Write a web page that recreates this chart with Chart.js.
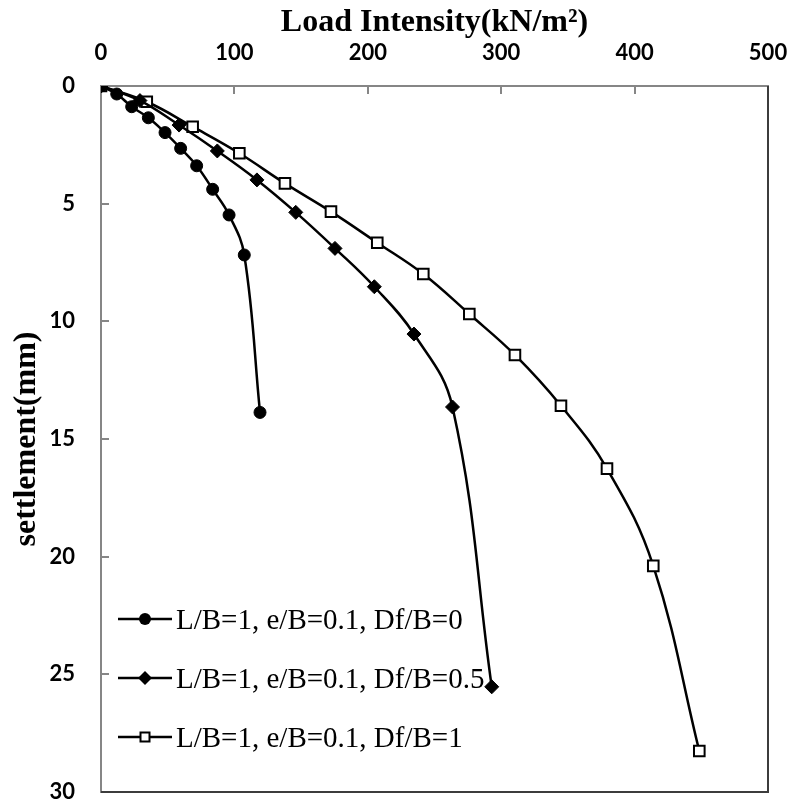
<!DOCTYPE html>
<html>
<head>
<meta charset="utf-8">
<script src="https://cdn.jsdelivr.net/npm/chart.js@4.4.0/dist/chart.umd.min.js"></script>
<style>
html, body { margin: 0; padding: 0; background: #fff; }
</style>
</head>
<body>
<canvas id="settleChart" width="792" height="805"></canvas>
<script>
// values
var seriesNames = ['L/B=1, e/B=0.1, Df/B=0', 'L/B=1, e/B=0.1, Df/B=0.5', 'L/B=1, e/B=0.1, Df/B=1'];

var loadDf0 = [0, 11.8, 23.0, 35.5, 48.0, 59.7, 71.7, 83.7, 96.0, 107.4, 119.2];
var settleDf0 = [0, 0.34, 0.88, 1.35, 1.98, 2.65, 3.39, 4.39, 5.48, 7.18, 13.87];

var loadDf05 = [0, 29.2, 58.5, 87.2, 116.9, 146.0, 175.4, 204.9, 234.6, 263.5, 292.9];
var settleDf05 = [0, 0.62, 1.66, 2.76, 3.99, 5.37, 6.90, 8.53, 10.54, 13.64, 25.53];

var loadDf1 = [0, 34.3, 68.7, 103.7, 137.9, 172.4, 207.1, 241.6, 276.1, 310.3, 344.8, 379.3, 414.0, 448.5];
var settleDf1 = [0, 0.67, 1.73, 2.86, 4.14, 5.34, 6.66, 7.99, 9.69, 11.43, 13.59, 16.26, 20.39, 28.26];

var xTicks = [0, 100, 200, 300, 400, 500];
var yTicks = [0, 5, 10, 15, 20, 25, 30];

function toPoints(xs, ys) {
    var pts = [];
    for (var i = 0; i < xs.length; i++) {
        pts.push({ x: xs[i], y: ys[i] });
    }
    return pts;
}

var axisGrey = '#868686';
var tickFont = { family: 'Lato', weight: 'bold', size: 22 };
var titleFont = { family: 'Liberation Serif', weight: 'bold', size: 32 };

// keep the plot box fixed: no extra room for overhanging labels
function noPad(s) {
    s.paddingLeft = 0;
    s.paddingRight = 0;
    s.paddingTop = 0;
    s.paddingBottom = 0;
}

// inward tick marks + dark right/bottom frame of the plot area
var frameAndTicks = {
    id: 'frameAndTicks',
    afterDraw: function(chart) {
        var ctx = chart.ctx;
        var a = chart.chartArea;
        var xs = chart.scales.x;
        var ys = chart.scales.y;
        ctx.save();
        ctx.strokeStyle = '#3c3c3c';
        ctx.lineWidth = 2;
        ctx.beginPath();
        ctx.moveTo(a.right, a.top);
        ctx.lineTo(a.right, a.bottom);
        ctx.lineTo(a.left, a.bottom);
        ctx.stroke();

        ctx.strokeStyle = axisGrey;
        ctx.lineWidth = 2;
        ctx.beginPath();
        for (var i = 1; i < xTicks.length - 1; i++) {
            var px = Math.round(xs.getPixelForValue(xTicks[i]));
            ctx.moveTo(px, a.top);
            ctx.lineTo(px, a.top + 8);
        }
        for (var j = 1; j < yTicks.length - 1; j++) {
            var py = Math.round(ys.getPixelForValue(yTicks[j]));
            ctx.moveTo(a.left, py);
            ctx.lineTo(a.left + 8, py);
        }
        ctx.stroke();
        ctx.restore();
    }
};

// legend drawn inside the plot, lower left
var innerLegend = {
    id: 'innerLegend',
    afterDatasetsDraw: function(chart) {
        var ctx = chart.ctx;
        var rows = [619, 678, 737];
        ctx.save();
        ctx.font = '29px "Liberation Serif"';
        ctx.fillStyle = '#000';
        ctx.textBaseline = 'alphabetic';
        chart.data.datasets.forEach(function(ds, i) {
            var y = rows[i];
            ctx.strokeStyle = '#000';
            ctx.lineWidth = 2.5;
            ctx.beginPath();
            ctx.moveTo(118, y);
            ctx.lineTo(172, y);
            ctx.stroke();
            ctx.lineWidth = 2;
            ctx.beginPath();
            if (ds.pointStyle === 'circle') {
                ctx.arc(145, y, 6, 0, Math.PI * 2);
                ctx.fill();
            } else if (ds.pointStyle === 'rectRot') {
                ctx.moveTo(138, y); ctx.lineTo(145, y - 7);
                ctx.lineTo(152, y); ctx.lineTo(145, y + 7);
                ctx.closePath();
                ctx.fill();
            } else {
                ctx.fillStyle = '#fff';
                ctx.rect(140.5, y - 4.5, 9, 9);
                ctx.fill();
                ctx.stroke();
                ctx.fillStyle = '#000';
            }
            ctx.fillText(ds.label, 176, y + 9.5);
        });
        ctx.restore();
    }
};

var ctx = document.getElementById('settleChart').getContext('2d');
var chart = new Chart(ctx, {
    type: 'line',
    data: {
        datasets: [{
            label: seriesNames[0],
            data: toPoints(loadDf0, settleDf0),
            borderColor: '#000',
            backgroundColor: '#000',
            borderWidth: 2.5,
            pointStyle: 'circle',
            pointRadius: 6,
            pointBorderWidth: 1,
            tension: 0.4
        }, {
            label: seriesNames[1],
            data: toPoints(loadDf05, settleDf05),
            borderColor: '#000',
            backgroundColor: '#000',
            borderWidth: 2.5,
            pointStyle: 'rectRot',
            pointRadius: 7,
            pointBorderWidth: 1,
            tension: 0.4
        }, {
            label: seriesNames[2],
            data: toPoints(loadDf1, settleDf1),
            borderColor: '#000',
            backgroundColor: '#fff',
            borderWidth: 2.5,
            pointStyle: 'rect',
            pointRadius: 7.5,
            pointBorderWidth: 2,
            tension: 0.4
        }]
    },
    options: {
        responsive: false,
        animation: false,
        devicePixelRatio: 1,
        layout: { padding: { left: 0, top: 0, right: 24, bottom: 13 } },
        plugins: {
            legend: { display: false },
            tooltip: { enabled: false }
        },
        scales: {
            x: {
                type: 'linear',
                position: 'top',
                min: 0,
                max: 500,
                afterFit: function(s) { s.height = 86; noPad(s); },
                afterBuildTicks: function(s) {
                    s.ticks = xTicks.map(function(v) { return { value: v }; });
                },
                ticks: { color: '#000', font: tickFont, padding: 20, maxRotation: 0 },
                grid: { drawOnChartArea: false, drawTicks: false },
                border: { color: axisGrey, width: 2 },
                title: {
                    display: true,
                    text: 'Load Intensity(kN/m\u00b2)',
                    color: '#000',
                    font: titleFont,
                    padding: { top: 4, bottom: 0 }
                }
            },
            y: {
                type: 'linear',
                position: 'left',
                reverse: true,
                min: 0,
                max: 30,
                afterFit: function(s) { s.width = 101; noPad(s); },
                afterBuildTicks: function(s) {
                    s.ticks = yTicks.map(function(v) { return { value: v }; });
                },
                ticks: { color: '#000', font: tickFont, padding: 26 },
                grid: { drawOnChartArea: false, drawTicks: false },
                border: { color: axisGrey, width: 2 },
                title: {
                    display: true,
                    text: 'settlement(mm)',
                    color: '#000',
                    font: titleFont,
                    padding: { top: 8, bottom: 0 }
                }
            }
        }
    },
    plugins: [frameAndTicks, innerLegend]
});
</script>
</body>
</html>
